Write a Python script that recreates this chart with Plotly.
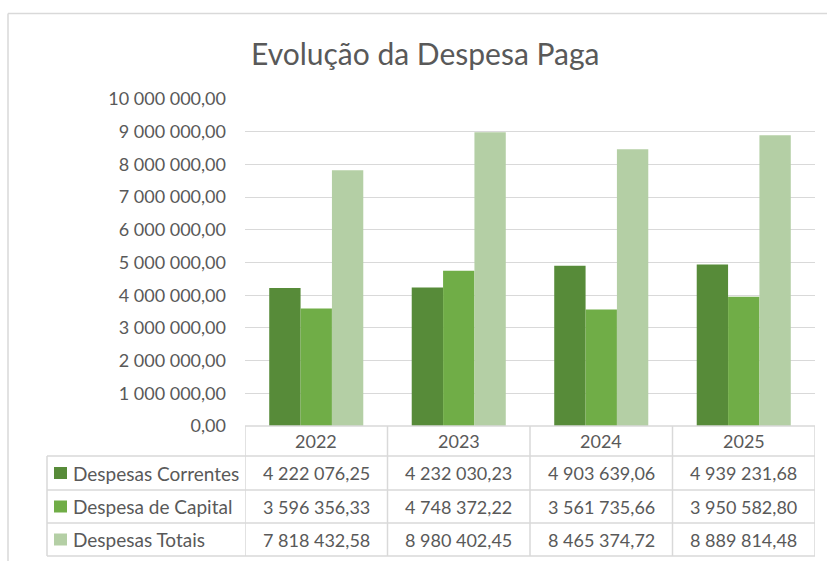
import plotly.graph_objects as go

years = ["2022", "2023", "2024", "2025"]
series_names = ["Despesas Correntes", "Despesa de Capital", "Despesas Totais"]
despesas_correntes = [4222076.25, 4232030.23, 4903639.06, 4939231.68]
despesa_capital = [3596356.33, 4748372.22, 3561735.66, 3950582.80]
despesas_totais = [7818432.58, 8980402.45, 8465374.72, 8889814.48]
y_tick_values = [0, 1e6, 2e6, 3e6, 4e6, 5e6, 6e6, 7e6, 8e6, 9e6, 1e7]
y_tick_labels = ["0,00", "1 000 000,00", "2 000 000,00", "3 000 000,00", "4 000 000,00",
                 "5 000 000,00", "6 000 000,00", "7 000 000,00", "8 000 000,00",
                 "9 000 000,00", "10 000 000,00"]

colors = ["#578B39", "#70AD47", "#B4CFA5"]
series_values = [despesas_correntes, despesa_capital, despesas_totais]

W, H = 827, 561
L, R, T, B = 245, 815, 99, 426
FONT = "Lato"
TXT = "#595959"
GRID = "#D9D9D9"
FS = 18
FS_LAB = 19


def xp(px):
    return (px - L) / (R - L)


def yp(py):
    return (B - py) / (B - T)


def fmt(v):
    return f"{v:,.2f}".replace(",", " ").replace(".", ",")


fig = go.Figure()
for name, vals, col in zip(series_names, series_values, colors):
    fig.add_trace(go.Bar(x=years, y=vals, name=name, marker=dict(color=col, line=dict(width=0))))

shapes = []
annotations = []
line = dict(color=GRID, width=1.5)

rows = [426, 456, 490, 523, 556]
shapes.append(dict(type="line", xref="x", yref="paper", x0=-0.5, x1=3.5, y0=yp(rows[0]), y1=yp(rows[0]), line=line))
for r in rows[1:]:
    shapes.append(dict(type="line", xref="paper", yref="paper", x0=xp(47), x1=1, y0=yp(r), y1=yp(r), line=line))
for xv in [-0.5, 0.5, 1.5, 2.5, 3.5]:
    shapes.append(dict(type="line", xref="x", yref="paper", x0=xv, x1=xv, y0=yp(rows[0]), y1=yp(rows[-1]), line=line))
shapes.append(dict(type="line", xref="paper", yref="paper", x0=xp(47), x1=xp(47), y0=yp(rows[1]), y1=yp(rows[-1]), line=line))

# chart outer border
shapes.append(dict(type="line", xref="paper", yref="paper", x0=xp(8), x1=xp(827), y0=yp(13.5), y1=yp(13.5), line=dict(color=GRID, width=1.5)))
shapes.append(dict(type="line", xref="paper", yref="paper", x0=xp(8), x1=xp(8), y0=yp(13.5), y1=yp(561), line=dict(color=GRID, width=1.5)))

# header years
for i, yr in enumerate(years):
    annotations.append(dict(x=i, y=yp((rows[0] + rows[1]) / 2), xref="x", yref="paper", text=yr,
                            showarrow=False, xanchor="center", yanchor="middle",
                            font=dict(family=FONT, size=FS, color=TXT)))

for k, (name, vals, col) in enumerate(zip(series_names, series_values, colors)):
    top, bot = rows[k + 1], rows[k + 2]
    cy = (top + bot) / 2
    shapes.append(dict(type="rect", xref="paper", yref="paper", x0=xp(54), x1=xp(67), y0=yp(cy - 6), y1=yp(cy + 6),
                       fillcolor=col, line=dict(width=0)))
    annotations.append(dict(x=xp(71), y=yp(cy), xref="paper", yref="paper", text=name, showarrow=False,
                            xanchor="left", yanchor="middle", font=dict(family=FONT, size=FS_LAB, color=TXT)))
    for i, v in enumerate(vals):
        annotations.append(dict(x=i, y=yp(cy), xref="x", yref="paper", text=fmt(v), showarrow=False,
                                xanchor="center", yanchor="middle", font=dict(family=FONT, size=FS, color=TXT)))

# title
annotations.append(dict(x=xp(425), y=yp(53), xref="paper", yref="paper", text="Evolução da Despesa Paga",
                        showarrow=False, xanchor="center", yanchor="middle",
                        font=dict(family=FONT, size=30, color=TXT)))

fig.update_layout(
    width=W, height=H,
    margin=dict(l=L, r=W - R, t=T, b=H - B, pad=0),
    paper_bgcolor="white", plot_bgcolor="white",
    barmode="group", bargap=0.34, bargroupgap=0,
    showlegend=False,
    font=dict(family=FONT, size=FS, color=TXT),
    xaxis=dict(range=[-0.5, 3.5], showticklabels=False, showgrid=False, zeroline=False, showline=False,
               type="category", fixedrange=True),
    yaxis=dict(range=[0, 1e7], tickvals=y_tick_values, ticktext=y_tick_labels, showgrid=True,
               gridcolor=GRID, gridwidth=1.2, zeroline=False, showline=False, ticks="",
               ticklabelstandoff=18, tickfont=dict(family=FONT, size=FS, color=TXT), fixedrange=True),
    shapes=shapes, annotations=annotations,
)

fig.write_html("out.html", config={"displayModeBar": False},
               post_script="document.body.style.margin='0';document.body.style.overflow='hidden';")
